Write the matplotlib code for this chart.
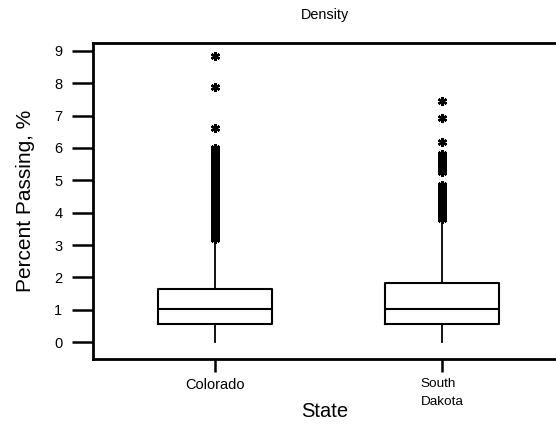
import matplotlib
matplotlib.use("Agg")
import matplotlib.pyplot as plt

plt.rcParams['font.family'] = ['Liberation Sans', 'DejaVu Sans']

# box statistics
states = ["Colorado", "South\nDakota"]
q1 = [0.55, 0.55]
med = [1.03, 1.03]
q3 = [1.65, 1.83]
whislo = [0.0, 0.0]
whishi = [3.1, 3.7]

# outliers (asterisks)
fliers_co = [3.2, 3.25, 3.3, 3.35, 3.4, 3.45, 3.5, 3.55, 3.6, 3.65, 3.7, 3.75,
             3.8, 3.85, 3.9, 3.95, 4.0, 4.05, 4.1, 4.15, 4.2, 4.25, 4.3, 4.35,
             4.4, 4.45, 4.5, 4.55, 4.6, 4.65, 4.7, 4.75, 4.8, 4.85, 4.9, 4.95,
             5.0, 5.05, 5.1, 5.15, 5.2, 5.25, 5.3, 5.35, 5.4, 5.45, 5.5, 5.55,
             5.6, 5.65, 5.7, 5.75, 5.8, 5.85, 5.9, 5.95, 6.0, 6.62, 7.88, 8.83]
fliers_sd = [3.8, 3.85, 3.9, 3.95, 4.0, 4.05, 4.1, 4.15, 4.2, 4.25, 4.3, 4.35,
             4.4, 4.45, 4.5, 4.55, 4.6, 4.65, 4.7, 4.75, 4.8, 4.85,
             5.25, 5.3, 5.35, 5.4, 5.45, 5.5, 5.55, 5.6, 5.65, 5.7, 5.75, 5.8,
             6.18, 6.92, 7.45]
fliers = [fliers_co, fliers_sd]

stats = []
for i in range(len(states)):
    stats.append(dict(q1=q1[i], med=med[i], q3=q3[i], whislo=whislo[i],
                      whishi=whishi[i], fliers=fliers[i], label=states[i]))

fig = plt.figure(figsize=(5.56, 4.25), dpi=100)
ax = fig.add_axes([93 / 556, 1 - 359 / 425, 1 - 93 / 556, (359 - 43) / 425])

ax.bxp(stats, positions=[1, 2], widths=0.5, showcaps=False,
       boxprops=dict(color='black', linewidth=1.5),
       medianprops=dict(color='black', linewidth=1.5),
       whiskerprops=dict(color='black', linewidth=1.3),
       flierprops=dict(marker=(6, 2, 0), markersize=6.5, markeredgecolor='black',
                       markeredgewidth=1.7, linestyle='none'))

ax.set_xlim(0.4626, 2.502)
ax.set_ylim(-0.52, 9.24)
ax.set_yticks(range(0, 10))
ax.spines['right'].set_visible(False)
for s in ['left', 'top', 'bottom']:
    ax.spines[s].set_linewidth(2)
ax.tick_params(axis='y', length=15, width=1.8, labelsize=10.5, pad=7)
ax.tick_params(axis='x', length=9, width=1.8, labelsize=10.5, pad=5)
labs = ax.get_xticklabels()
labs[1].set_fontsize(9.7)
labs[1].set_linespacing(1.6)
labs[1].set_multialignment('left')

ax.set_title("Density", fontsize=10.4, pad=17)
ax.set_xlabel("State", fontsize=14.5, labelpad=-4)
ax.set_ylabel("Percent Passing, %", fontsize=15, labelpad=14)

fig.savefig("out.png", dpi=100)
